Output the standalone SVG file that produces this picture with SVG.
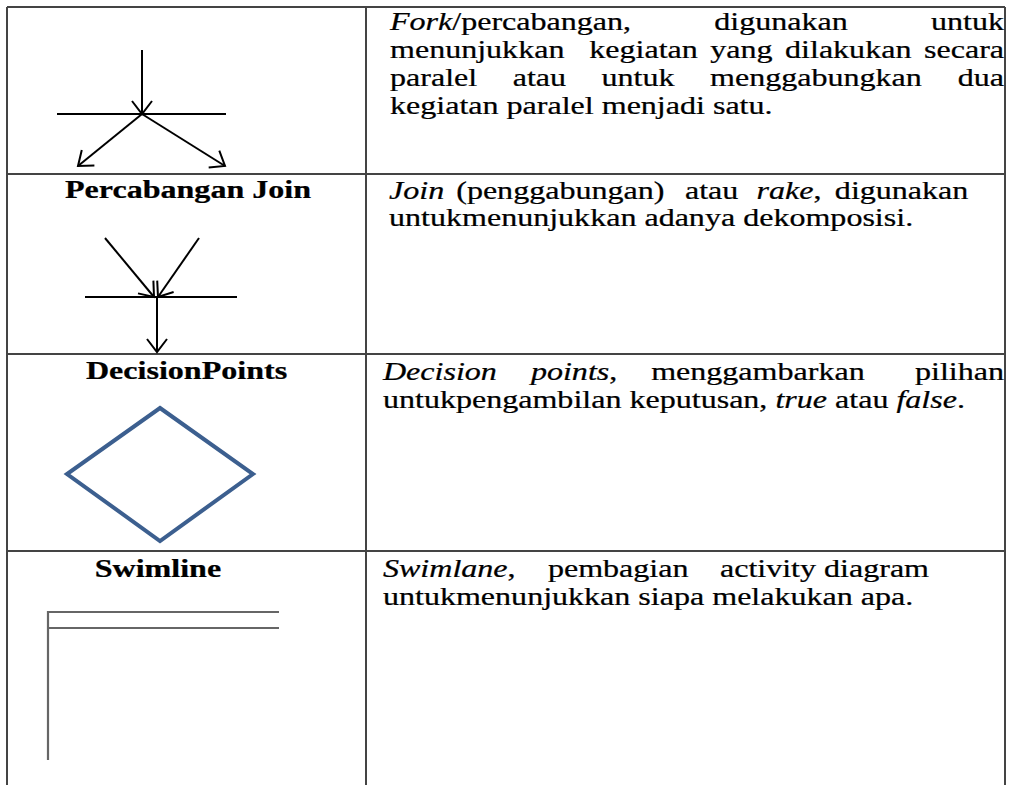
<svg xmlns="http://www.w3.org/2000/svg" width="1012" height="785" viewBox="0 0 1012 785">
<style>
.t{font-family:"Liberation Serif","Times New Roman",serif;font-size:26px;fill:#000;stroke:#000;stroke-width:0.25}
.b{font-weight:bold}
.i{font-style:italic}
.grid{stroke:#444;stroke-width:2;fill:none}
.ln{stroke:#000;stroke-width:2;fill:none}
.arw{stroke:#000;stroke-width:2;fill:none;marker-end:url(#arr)}
.sw{stroke:#666;stroke-width:2.2;fill:none}
</style>
<defs>
<marker id="arr" viewBox="-15 -12 17 24" refX="0" refY="0" markerWidth="17" markerHeight="24" markerUnits="userSpaceOnUse" orient="auto">
<path d="M-13,-10 L0,0 L-13,10" fill="none" stroke="#000" stroke-width="2"/>
</marker>
</defs>
<rect width="1012" height="785" fill="#fff"/>
<g id="table" class="grid">
<line x1="7" y1="7" x2="1005" y2="7"/>
<line x1="7" y1="7" x2="7" y2="785"/>
<line x1="366" y1="7" x2="366" y2="785"/>
<line x1="1005" y1="7" x2="1005" y2="785"/>
<line x1="7" y1="174" x2="1005" y2="174"/>
<line x1="7" y1="354" x2="1005" y2="354"/>
<line x1="7" y1="551" x2="1005" y2="551"/>
</g>
<g id="fork">
<line class="ln" x1="57" y1="114" x2="226" y2="114"/>
</g>
<g id="join">
<line class="ln" x1="85" y1="297" x2="237" y2="297"/>
</g>
<g id="connectors">
<line class="arw" x1="142" y1="50" x2="142" y2="114"/>
<line class="arw" x1="142" y1="114" x2="78" y2="166"/>
<line class="arw" x1="142" y1="114" x2="225" y2="166"/>
<line class="arw" x1="105" y1="238" x2="154" y2="297"/>
<line class="arw" x1="199" y1="238" x2="158" y2="297"/>
<line class="arw" x1="157" y1="297" x2="157" y2="352"/>
</g>
<g id="decision">
<polygon points="160,408 253,474 160,541 67,474" fill="#fff" stroke="#3c5f8f" stroke-width="4" stroke-linejoin="miter"/>
</g>
<g id="swimline">
<polyline class="sw" points="279,612 48,612 48,760"/>
<line class="sw" x1="48" y1="628" x2="279" y2="628"/>
</g>
<g id="labels" class="t b" transform="scale(1.233,1)" text-anchor="middle">
<text x="152.5" y="198">Percabangan Join</text>
<text x="151.3" y="379">DecisionPoints</text>
<text x="128.1" y="577">Swimline</text>
</g>
<g id="desc-fork" class="t" transform="scale(1.233,1)">
<text x="316.3" y="30"><tspan class="i">Fork</tspan>/percabangan,</text>
<text x="579.3" y="30">digunakan</text>
<text x="814.3" y="30" text-anchor="end">untuk</text>
<text x="316.3" y="58">menunjukkan</text>
<text x="477.9" y="58">kegiatan</text>
<text x="576.1" y="58">yang</text>
<text x="636.7" y="58">dilakukan</text>
<text x="814.3" y="58" text-anchor="end">secara</text>
<text x="316.3" y="86">paralel</text>
<text x="415.8" y="86">atau</text>
<text x="487.9" y="86">untuk</text>
<text x="575.9" y="86">menggabungkan</text>
<text x="814.3" y="86" text-anchor="end">dua</text>
<text x="316.3" y="114">kegiatan paralel menjadi satu.</text>
</g>
<g id="desc-join" class="t" transform="scale(1.233,1)">
<text x="315.5" y="199" class="i">Join</text>
<text x="370.0" y="199">(penggabungan)</text>
<text x="555.5" y="199">atau</text>
<text x="613.5" y="199"><tspan class="i">rake</tspan>,</text>
<text x="677.1" y="199">digunakan</text>
<text x="315.5" y="226">untukmenunjukkan adanya dekomposisi.</text>
</g>
<g id="desc-decision" class="t" transform="scale(1.233,1)">
<text x="310.6" y="380" class="i">Decision</text>
<text x="430.6" y="380"><tspan class="i">points</tspan>,</text>
<text x="528.1" y="380">menggambarkan</text>
<text x="814.3" y="380" text-anchor="end">pilihan</text>
<text x="310.6" y="408">untukpengambilan keputusan, <tspan class="i">true</tspan> atau <tspan class="i">false</tspan>.</text>
</g>
<g id="desc-swimlane" class="t" transform="scale(1.233,1)">
<text x="310.6" y="577"><tspan class="i">Swimlane</tspan>,</text>
<text x="444.4" y="577">pembagian</text>
<text x="583.9" y="577">activity diagram</text>
<text x="310.6" y="605">untukmenunjukkan siapa melakukan apa.</text>
</g>
</svg>
